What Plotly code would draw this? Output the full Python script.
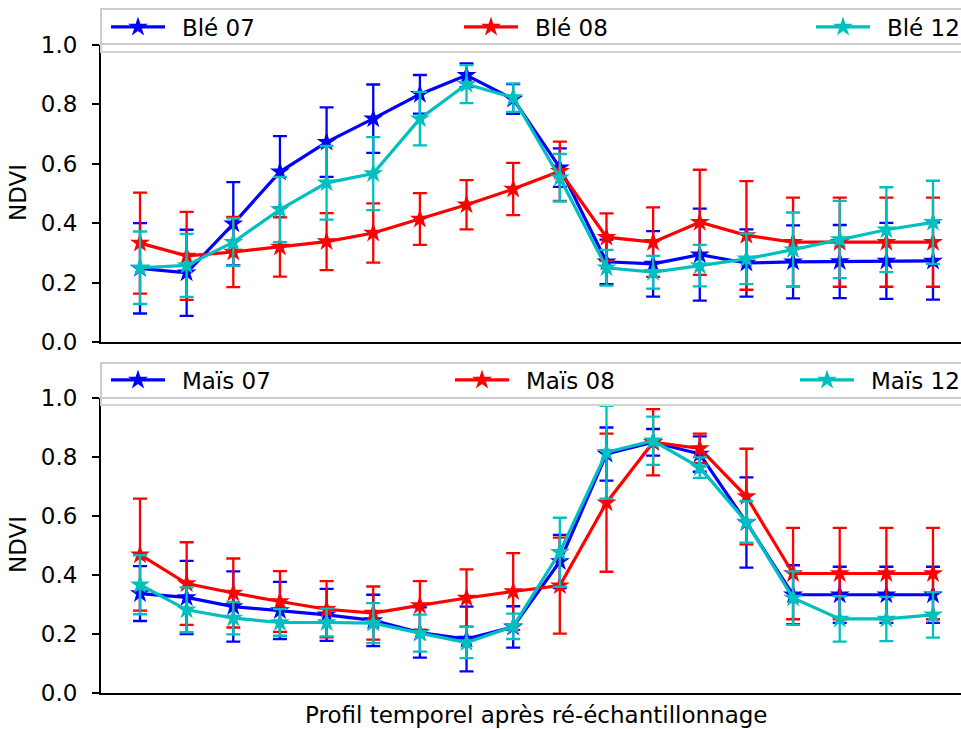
import plotly.graph_objects as go

# ---------------- data ----------------
steps = list(range(18))

ble07 = [0.248, 0.233, 0.398, 0.573, 0.673, 0.752, 0.834, 0.898, 0.818, 0.587, 0.270, 0.263, 0.294, 0.266, 0.270, 0.271, 0.273, 0.273]
ble07_err = [0.152, 0.145, 0.140, 0.120, 0.117, 0.115, 0.065, 0.040, 0.050, 0.065, 0.075, 0.110, 0.155, 0.113, 0.123, 0.123, 0.128, 0.130]

ble08 = [0.333, 0.290, 0.303, 0.320, 0.338, 0.367, 0.414, 0.462, 0.515, 0.575, 0.353, 0.336, 0.403, 0.359, 0.336, 0.336, 0.336, 0.336]
ble08_err = [0.170, 0.148, 0.118, 0.100, 0.096, 0.100, 0.087, 0.083, 0.088, 0.100, 0.080, 0.117, 0.177, 0.183, 0.150, 0.150, 0.150, 0.150]

ble12 = [0.250, 0.258, 0.336, 0.446, 0.536, 0.567, 0.752, 0.868, 0.823, 0.553, 0.250, 0.235, 0.257, 0.280, 0.311, 0.345, 0.378, 0.403]
ble12_err = [0.122, 0.106, 0.080, 0.110, 0.124, 0.123, 0.090, 0.064, 0.048, 0.080, 0.060, 0.055, 0.070, 0.085, 0.125, 0.130, 0.143, 0.140]

mais07 = [0.337, 0.324, 0.293, 0.280, 0.265, 0.246, 0.205, 0.183, 0.224, 0.446, 0.810, 0.850, 0.810, 0.578, 0.333, 0.333, 0.333, 0.333]
mais07_err = [0.093, 0.124, 0.119, 0.097, 0.088, 0.087, 0.085, 0.110, 0.070, 0.090, 0.090, 0.045, 0.060, 0.153, 0.100, 0.095, 0.095, 0.095]

mais08 = [0.469, 0.371, 0.339, 0.310, 0.284, 0.271, 0.297, 0.322, 0.344, 0.364, 0.645, 0.850, 0.829, 0.666, 0.405, 0.405, 0.405, 0.405]
mais08_err = [0.190, 0.140, 0.117, 0.103, 0.095, 0.090, 0.082, 0.097, 0.130, 0.163, 0.234, 0.112, 0.050, 0.162, 0.155, 0.155, 0.155, 0.155]

mais12 = [0.367, 0.282, 0.254, 0.239, 0.239, 0.237, 0.203, 0.171, 0.226, 0.477, 0.816, 0.855, 0.764, 0.580, 0.322, 0.251, 0.251, 0.265]
mais12_err = [0.100, 0.076, 0.055, 0.045, 0.047, 0.068, 0.063, 0.053, 0.043, 0.117, 0.157, 0.082, 0.035, 0.070, 0.090, 0.077, 0.075, 0.077]

top_names = ["Blé 07", "Blé 08", "Blé 12"]
bottom_names = ["Maïs 07", "Maïs 08", "Maïs 12"]
y_ticks = [0.0, 0.2, 0.4, 0.6, 0.8, 1.0]
x_title = "Profil temporel après ré-échantillonnage"
y_title = "NDVI"

colors = ["#0000ff", "#ff0000", "#00bfbf"]

# ---------------- figure ----------------
W, H = 961, 729
ML = 101
PW = W - ML


def px_x(p):
    return (p - ML) / PW


def px_y(p):
    return 1 - p / H


FONT = "DejaVu Sans"
FS = 23
PAD = "\u00a0\u2009"

fig = go.Figure()

series = [
    (top_names, [ble07, ble08, ble12], [ble07_err, ble08_err, ble12_err], "x", "y", 0),
    (bottom_names, [mais07, mais08, mais12], [mais07_err, mais08_err, mais12_err], "x2", "y2", 3),
]

handle_px = [[109, 462, 814], [109, 453, 798]]
legend_centers = [27, 380]

for k, (names, vals, errs, xa, ya, off) in enumerate(series):
    for i in range(3):
        lg = "legend" if off + i == 0 else f"legend{off + i + 1}"
        fig.add_trace(go.Scatter(
            x=steps, y=vals[i], name=PAD + names[i], mode="lines+markers",
            line=dict(color=colors[i], width=3.2),
            marker=dict(symbol="star", size=15, color=colors[i], line=dict(width=0)),
            error_y=dict(type="data", array=errs[i], visible=True, color=colors[i], thickness=2.3, width=7),
            xaxis=xa, yaxis=ya, legend=lg, showlegend=True,
        ))

layout_legends = {}
for k in range(2):
    for i in range(3):
        idx = k * 3 + i
        key = "legend" if idx == 0 else f"legend{idx + 1}"
        layout_legends[key] = dict(
            x=px_x(handle_px[k][i] - 3), xanchor="left",
            y=px_y(legend_centers[k]), yanchor="middle",
            bgcolor="rgba(0,0,0,0)", borderwidth=0,
            font=dict(family=FONT, size=FS, color="black"),
            itemwidth=54, orientation="h",
        )

xr = [-0.836, 17.6]
top_dom = [px_y(342), px_y(45)]
bot_dom = [px_y(693), px_y(398)]

axis_common_x = dict(range=xr, showline=True, linecolor="black", linewidth=2, showticklabels=False,
                     ticks="", showgrid=False, zeroline=False)
axis_common_y = dict(range=[0, 1.0], tickvals=y_ticks, tickformat=".1f", showline=True, linecolor="black",
                     linewidth=2, ticks="outside", ticklen=7, tickwidth=2, tickcolor="black",
                     tickfont=dict(family=FONT, size=FS, color="black"), showgrid=False, zeroline=False,
                     automargin=False, ticklabelstandoff=10)

shapes = []
for top, bot, shadow in [(9, 44, 52), (363, 398, 405)]:
    shapes.append(dict(type="rect", xref="paper", yref="paper", x0=px_x(101), x1=px_x(975),
                       y0=px_y(shadow), y1=px_y(top + 8), line=dict(color="#d3d3d3", width=2),
                       fillcolor="white", layer="above"))
    shapes.append(dict(type="rect", xref="paper", yref="paper", x0=px_x(101), x1=px_x(975),
                       y0=px_y(bot), y1=px_y(top), line=dict(color="#cccccc", width=2),
                       fillcolor="white", layer="above"))

annotations = [
    dict(text=x_title, xref="paper", yref="paper", x=px_x(536), y=px_y(715), showarrow=False,
         font=dict(family=FONT, size=FS, color="black"), xanchor="center", yanchor="middle"),
    dict(text=y_title, xref="paper", yref="paper", x=px_x(18), y=px_y(193), showarrow=False, textangle=-90,
         font=dict(family=FONT, size=FS, color="black"), xanchor="center", yanchor="middle"),
    dict(text=y_title, xref="paper", yref="paper", x=px_x(18), y=px_y(545), showarrow=False, textangle=-90,
         font=dict(family=FONT, size=FS, color="black"), xanchor="center", yanchor="middle"),
]

fig.update_layout(
    width=W, height=H,
    margin=dict(l=ML, r=0, t=0, b=0, autoexpand=False),
    paper_bgcolor="white", plot_bgcolor="white",
    xaxis=dict(domain=[0, 1], anchor="y", **axis_common_x),
    yaxis=dict(domain=top_dom, anchor="x", **axis_common_y),
    xaxis2=dict(domain=[0, 1], anchor="y2", **axis_common_x),
    yaxis2=dict(domain=bot_dom, anchor="x2", **axis_common_y),
    shapes=shapes, annotations=annotations,
    font=dict(family=FONT, size=FS, color="black"),
    **layout_legends,
)

fig.write_html(
    "out.html",
    config={"displayModeBar": False},
    post_script="document.body.style.margin='0px';document.body.style.overflow='hidden';",
)
